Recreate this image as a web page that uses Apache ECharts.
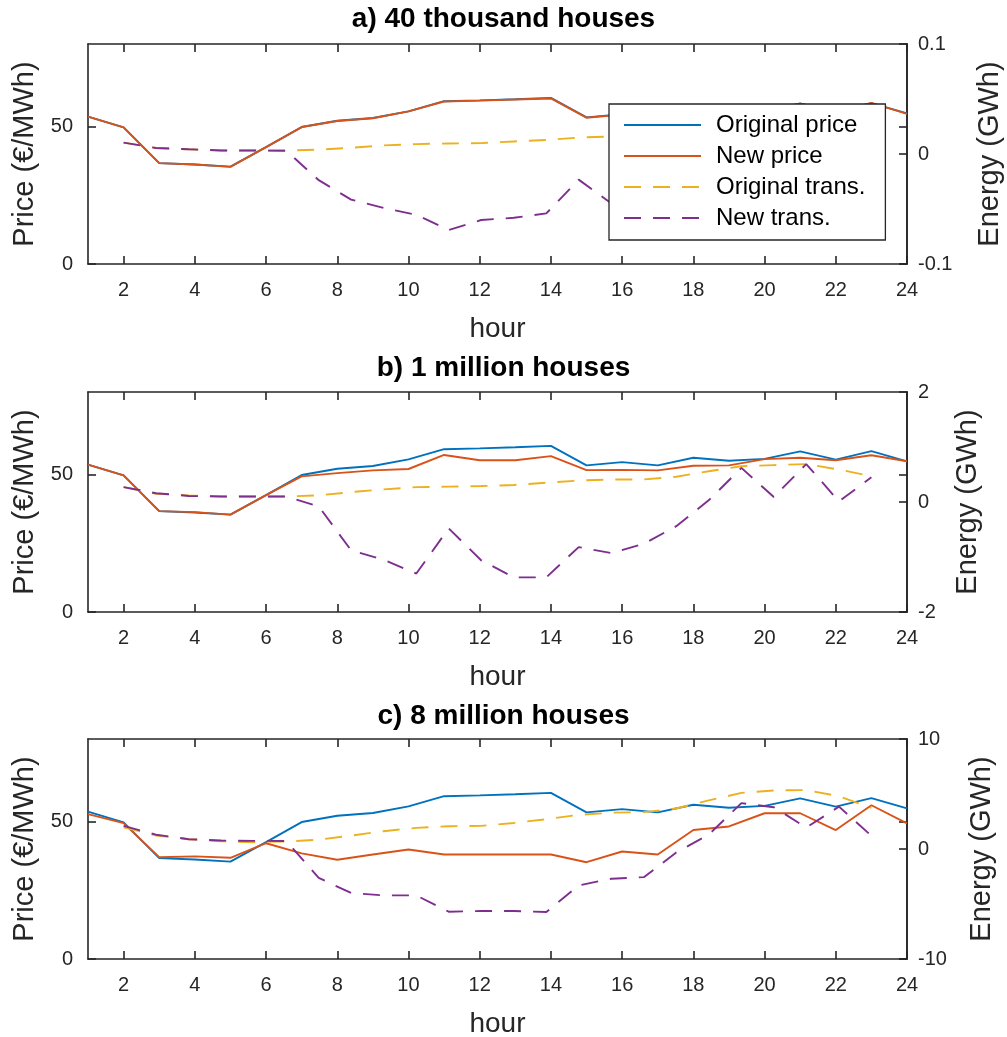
<!DOCTYPE html>
<html>
<head>
<meta charset="utf-8">
<script src="https://cdn.jsdelivr.net/npm/echarts@6/dist/echarts.min.js"></script>
<style>
  html, body { margin: 0; padding: 0; background: #fff; }
  #chart { width: 1007px; height: 1037px; }
</style>
</head>
<body>
<div id="chart"></div>
<script>
// Hourly axis and tick positions
const hours = [1, 2, 3, 4, 5, 6, 7, 8, 9, 10, 11, 12, 13, 14, 15, 16, 17, 18, 19, 20, 21, 22, 23, 24];
const hourTicks = [2, 4, 6, 8, 10, 12, 14, 16, 18, 20, 22, 24];
// The transmission series are sampled on 24 evenly spaced points between hour 2 and hour 23
const transHours = [2.00, 2.91, 3.83, 4.74, 5.65, 6.57, 7.48, 8.39, 9.30, 10.22, 11.13, 12.04,
                    12.96, 13.87, 14.78, 15.70, 16.61, 17.52, 18.43, 19.35, 20.26, 21.17, 22.09, 23.00];
const priceTicks = [0, 50];

// Prices (€/MWh)
const originalPrice = [53.6, 49.7, 36.7, 36.2, 35.4, 42.5, 49.8, 52.1, 53.1, 55.5, 59.2, 59.5,
                       59.9, 60.4, 53.3, 54.5, 53.3, 56.1, 55.0, 55.7, 58.4, 55.4, 58.5, 54.8];
const newPriceA = [53.6, 49.7, 36.7, 36.2, 35.3, 42.5, 49.8, 52.0, 53.0, 55.5, 59.1, 59.4,
                   59.8, 60.2, 53.2, 54.3, 53.2, 56.0, 54.9, 55.6, 58.3, 55.3, 58.6, 54.6];
const newPriceB = [53.6, 49.7, 36.7, 36.3, 35.4, 42.5, 49.3, 50.5, 51.5, 52.0, 57.1, 55.2,
                   55.2, 56.7, 51.6, 51.7, 51.5, 53.2, 53.3, 55.6, 56.1, 55.2, 57.0, 54.8];
const newPriceC = [52.7, 49.4, 37.0, 37.3, 36.8, 42.1, 38.4, 36.1, 38.0, 39.8, 38.0, 38.0,
                   38.0, 38.0, 35.2, 39.1, 38.0, 46.9, 48.2, 53.0, 53.0, 46.9, 55.9, 49.3];

// Transmitted energy (GWh)
const origTransA = [0.0103, 0.0055, 0.0043, 0.0032, 0.0032, 0.0032, 0.0039, 0.0057, 0.0078, 0.0090, 0.0096, 0.0099,
                    0.0114, 0.0128, 0.0149, 0.0160, 0.0164, 0.0184, 0.0224, 0.0260, 0.0268, 0.0276, 0.0236, 0.0188];
const newTransA = [0.0103, 0.0055, 0.0043, 0.0032, 0.0032, 0.0029, -0.0238, -0.0415, -0.0490, -0.0553, -0.0691, -0.0600,
                   -0.0580, -0.0540, -0.0233, -0.0450, -0.0300, -0.0180, 0.0010, 0.0250, 0.0040, 0.0280, 0.0000, 0.0180];
const origTransB = [0.27, 0.15, 0.12, 0.10, 0.10, 0.10, 0.12, 0.18, 0.23, 0.27, 0.28, 0.29,
                    0.31, 0.35, 0.39, 0.41, 0.41, 0.46, 0.56, 0.65, 0.67, 0.69, 0.59, 0.47];
const newTransB = [0.27, 0.16, 0.11, 0.10, 0.10, 0.10, -0.08, -0.88, -1.05, -1.30, -0.48, -1.06,
                   -1.37, -1.37, -0.82, -0.93, -0.76, -0.44, 0.03, 0.62, 0.09, 0.69, 0.01, 0.45];
const origTransC = [1.98, 1.23, 0.89, 0.71, 0.62, 0.68, 0.84, 1.22, 1.62, 1.92, 2.07, 2.10,
                    2.37, 2.71, 3.10, 3.30, 3.35, 3.68, 4.42, 5.10, 5.32, 5.36, 4.80, 3.73];
const newTransC = [2.10, 1.30, 0.89, 0.77, 0.74, 0.73, -2.63, -4.00, -4.22, -4.22, -5.70, -5.64,
                   -5.64, -5.73, -3.31, -2.70, -2.56, -0.32, 1.30, 4.17, 3.80, 1.95, 3.85, 1.20];

const energyTicksA = [-0.1, 0, 0.1];
const energyTicksB = [-2, 0, 2];
const energyTicksC = [-10, 0, 10];

const panelTitles = ['a) 40 thousand houses', 'b) 1 million houses', 'c) 8 million houses'];
const seriesNames = ['Original price', 'New price', 'Original trans.', 'New trans.'];
const colors = ['#0072BD', '#D95319', '#EDB120', '#7E2F8E'];

const panels = [
  { title: panelTitles[0], newPrice: newPriceA, origTrans: origTransA, newTrans: newTransA, ticks: energyTicksA, top: 44, titleTop: 5, energyGap: 68 },
  { title: panelTitles[1], newPrice: newPriceB, origTrans: origTransB, newTrans: newTransB, ticks: energyTicksB, top: 392, titleTop: 354, energyGap: 46 },
  { title: panelTitles[2], newPrice: newPriceC, origTrans: origTransC, newTrans: newTransC, ticks: energyTicksC, top: 739, titleTop: 702, energyGap: 60 }
];

const FONT = '"Liberation Sans", Arial, sans-serif';
const INK = '#262626';
const axisLine = { show: true, onZero: false, lineStyle: { color: INK, width: 1.6 } };
const tickStyle = { color: INK, width: 1.6 };

const option = {
  animation: false,
  backgroundColor: '#fff',
  title: [],
  grid: [],
  xAxis: [],
  yAxis: [],
  series: [],
  legend: {
    data: seriesNames,
    orient: 'vertical',
    left: 609,
    top: 104,
    itemWidth: 77,
    itemHeight: 14,
    itemGap: 7,
    padding: [9, 20, 10, 14],
    backgroundColor: '#fff',
    borderColor: INK,
    borderWidth: 1.3,
    borderRadius: 0,
    selectedMode: false,
    itemStyle: { opacity: 0 },
    textStyle: { fontFamily: FONT, fontSize: 24, lineHeight: 24, color: '#000', padding: [0, 0, 0, 10] }
  }
};

panels.forEach((p, i) => {
  option.title.push({
    text: p.title,
    left: 'center',
    top: p.titleTop,
    padding: 0,
    textStyle: { fontFamily: FONT, fontSize: 28, fontWeight: 'bold', color: '#000' }
  });
  option.grid.push({ left: 88, width: 819, top: p.top, height: 220, containLabel: false, outerBoundsMode: 'none' });

  const xb = option.xAxis.length;
  // bottom hour axis
  option.xAxis.push({
    type: 'value', gridIndex: i, min: 1, max: 24, position: 'bottom',
    name: 'hour', nameLocation: 'middle', nameGap: 51,
    nameTextStyle: { fontFamily: FONT, fontSize: 28, color: INK },
    axisLine: axisLine,
    axisTick: { inside: true, length: 8, lineStyle: tickStyle, customValues: hourTicks },
    axisLabel: { margin: 16, fontFamily: FONT, fontSize: 20, color: INK, customValues: hourTicks },
    splitLine: { show: false }
  });
  // mirrored top edge
  option.xAxis.push({
    type: 'value', gridIndex: i, min: 1, max: 24, position: 'top',
    axisLine: axisLine,
    axisTick: { inside: true, length: 8, lineStyle: tickStyle, customValues: hourTicks },
    axisLabel: { show: false },
    splitLine: { show: false }
  });

  const yl = option.yAxis.length;
  // price axis (left)
  option.yAxis.push({
    type: 'value', gridIndex: i, min: 0, max: 80, position: 'left',
    name: 'Price (€/MWh)', nameLocation: 'middle', nameGap: 46, nameRotate: 90,
    nameTextStyle: { fontFamily: FONT, fontSize: 29, color: INK },
    axisLine: axisLine,
    axisTick: { inside: true, length: 8, lineStyle: tickStyle, customValues: priceTicks },
    axisLabel: { margin: 15, fontFamily: FONT, fontSize: 20, color: INK, customValues: priceTicks },
    splitLine: { show: false }
  });
  // price ticks mirrored on the right edge
  option.yAxis.push({
    type: 'value', gridIndex: i, min: 0, max: 80, position: 'right',
    axisLine: axisLine,
    axisTick: { inside: true, length: 8, lineStyle: tickStyle, customValues: priceTicks },
    axisLabel: { show: false },
    splitLine: { show: false }
  });
  // energy axis (right)
  option.yAxis.push({
    type: 'value', gridIndex: i, min: p.ticks[0], max: p.ticks[2], position: 'right',
    name: 'Energy (GWh)', nameLocation: 'middle', nameGap: p.energyGap, nameRotate: 90,
    nameTextStyle: { fontFamily: FONT, fontSize: 29, color: INK },
    axisLine: axisLine,
    axisTick: { inside: true, length: 8, lineStyle: tickStyle, customValues: p.ticks },
    axisLabel: { margin: 11, fontFamily: FONT, fontSize: 20, color: INK, customValues: p.ticks },
    splitLine: { show: false }
  });

  const lineSeries = (name, xs, ys, yIndex, color, dashed) => ({
    name: name, type: 'line', xAxisIndex: xb, yAxisIndex: yIndex,
    data: ys.map((v, k) => [xs[k], v]),
    symbol: 'none', smooth: false, clip: true,
    lineStyle: { color: color, width: 1.9, type: dashed ? [17, 12] : 'solid' },
    itemStyle: { color: color },
    emphasis: { disabled: true }
  });

  option.series.push(lineSeries(seriesNames[0], hours, originalPrice, yl, colors[0], false));
  option.series.push(lineSeries(seriesNames[1], hours, p.newPrice, yl, colors[1], false));
  option.series.push(lineSeries(seriesNames[2], transHours, p.origTrans, yl + 2, colors[2], true));
  option.series.push(lineSeries(seriesNames[3], transHours, p.newTrans, yl + 2, colors[3], true));
});

const chart = echarts.init(document.getElementById('chart'), null, { renderer: 'canvas' });
chart.setOption(option);
</script>
</body>
</html>
